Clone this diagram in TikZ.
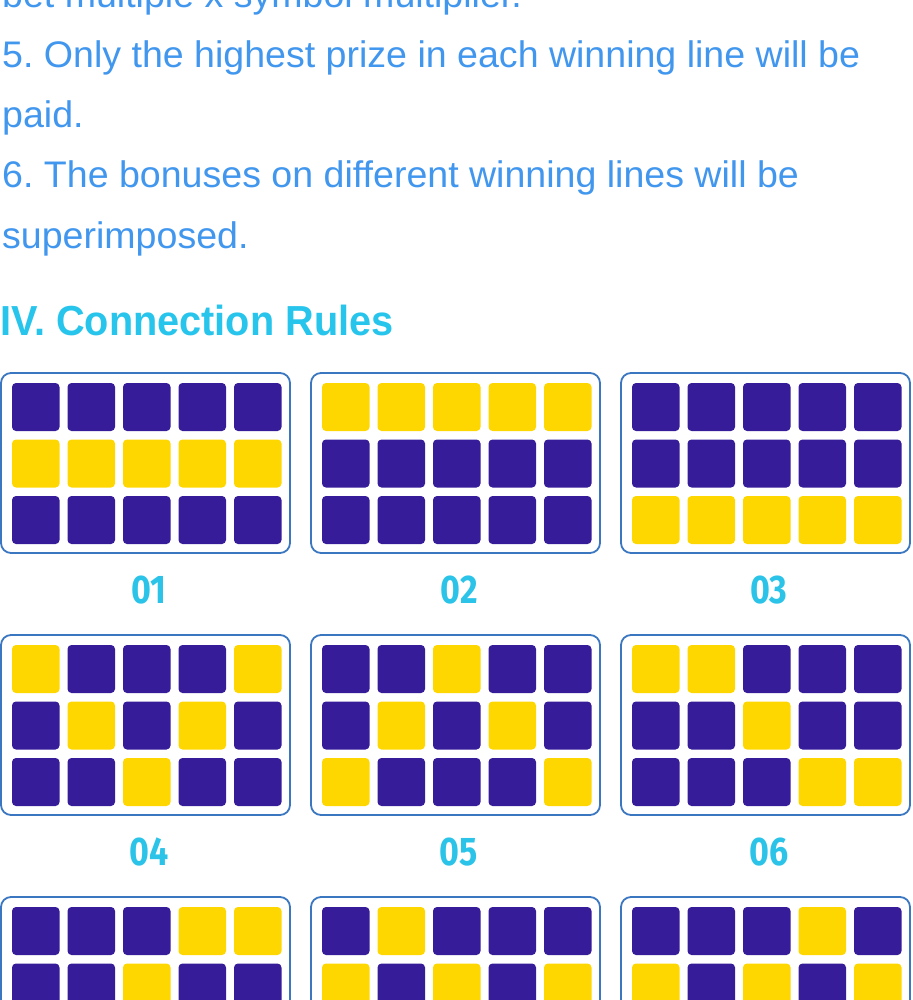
\documentclass[tikz,border=0pt]{standalone}
\usepackage{fontspec}
\setmainfont{Liberation Sans}
\newfontfamily\bodyfont{Liberation Sans}[FakeStretch=1.015]
\newfontfamily\headfont{Liberation Sans Bold}[FakeStretch=0.945]
\newfontfamily\labelfont{Fira Sans Bold}
\frenchspacing
\definecolor{bodyblue}{HTML}{4196EE}
\definecolor{headblue}{HTML}{27C4EC}
\definecolor{numblue}{HTML}{2CC3E9}
\definecolor{cellnavy}{HTML}{361C98}
\definecolor{cellgold}{HTML}{FFD700}
\definecolor{framblue}{HTML}{3A77C0}
\tikzset{
  bodytext/.style={anchor=base west, inner sep=0pt, text=bodyblue, font=\bodyfont\fontsize{37}{40}\selectfont},
  headtext/.style={anchor=base west, inner sep=0pt, text=headblue, font=\headfont\fontsize{42}{46}\selectfont},
  gridframe/.style={draw=framblue, line width=1.8pt, rounded corners=10pt, minimum width=289pt, minimum height=180pt, inner sep=0pt, outer sep=0pt, anchor=north west},
  cellD/.style={fill=cellnavy, rounded corners=4pt, minimum width=47.5pt, minimum height=48pt, inner sep=0pt, outer sep=0pt, anchor=north west},
  cellY/.style={cellD, fill=cellgold},
  numlabel/.style={text=numblue, inner sep=0pt, font=\labelfont\fontsize{40}{42}\selectfont}
}
% #1 column, #2 row, #3 name, #4 cells (1 = gold), #5 1 = print the label
\newcommand{\linegrid}[5]{%
  \pgfmathsetmacro\bx{1+310*#1}%
  \pgfmathsetmacro\by{373+262*#2}%
  \node[gridframe] (box#3) at (\bx,\by) {};
  \foreach \v [count=\i from 0] in {#4} {
    \pgfmathtruncatemacro\cc{mod(\i,5)}
    \pgfmathtruncatemacro\rr{div(\i,5)}
    \pgfmathsetmacro\cx{\bx+11+55.5*\cc}
    \pgfmathsetmacro\cy{\by+10+56.5*\rr}
    \ifnum\v=1
      \node[cellY] (c#3-\i) at (\cx,\cy) {};
    \else
      \node[cellD] (c#3-\i) at (\cx,\cy) {};
    \fi
  }
  \ifnum#5=1
    \node[numlabel] (lab#3) at (\bx+148,\by+217) {\scalebox{0.85}[1]{#3}};
  \fi
}
\begin{document}
\begin{tikzpicture}[x=1pt,y=-1pt]
\useasboundingbox (0,0) rectangle (912,1000);
\clip (0,0) rectangle (912,1000);
\node[bodytext] (t1) at (2,8) {bet multiple x symbol multiplier.};
\node[bodytext] (t2) at (2,68) {5. Only the highest prize in each winning line will be};
\node[bodytext] (t3) at (2,128) {paid.};
\node[bodytext] (t4) at (2,188) {6. The bonuses on different winning lines will be};
\node[bodytext] (t5) at (2,248) {superimposed.};
\node[headtext] (h1) at (0,335) {IV. Connection Rules};
\linegrid{0}{0}{01}{0,0,0,0,0, 1,1,1,1,1, 0,0,0,0,0}{1}
\linegrid{1}{0}{02}{1,1,1,1,1, 0,0,0,0,0, 0,0,0,0,0}{1}
\linegrid{2}{0}{03}{0,0,0,0,0, 0,0,0,0,0, 1,1,1,1,1}{1}
\linegrid{0}{1}{04}{1,0,0,0,1, 0,1,0,1,0, 0,0,1,0,0}{1}
\linegrid{1}{1}{05}{0,0,1,0,0, 0,1,0,1,0, 1,0,0,0,1}{1}
\linegrid{2}{1}{06}{1,1,0,0,0, 0,0,1,0,0, 0,0,0,1,1}{1}
\linegrid{0}{2}{07}{0,0,0,1,1, 0,0,1,0,0}{0}
\linegrid{1}{2}{08}{0,1,0,0,0, 1,0,1,0,1}{0}
\linegrid{2}{2}{09}{0,0,0,1,0, 1,0,1,0,1}{0}
\end{tikzpicture}
\end{document}
